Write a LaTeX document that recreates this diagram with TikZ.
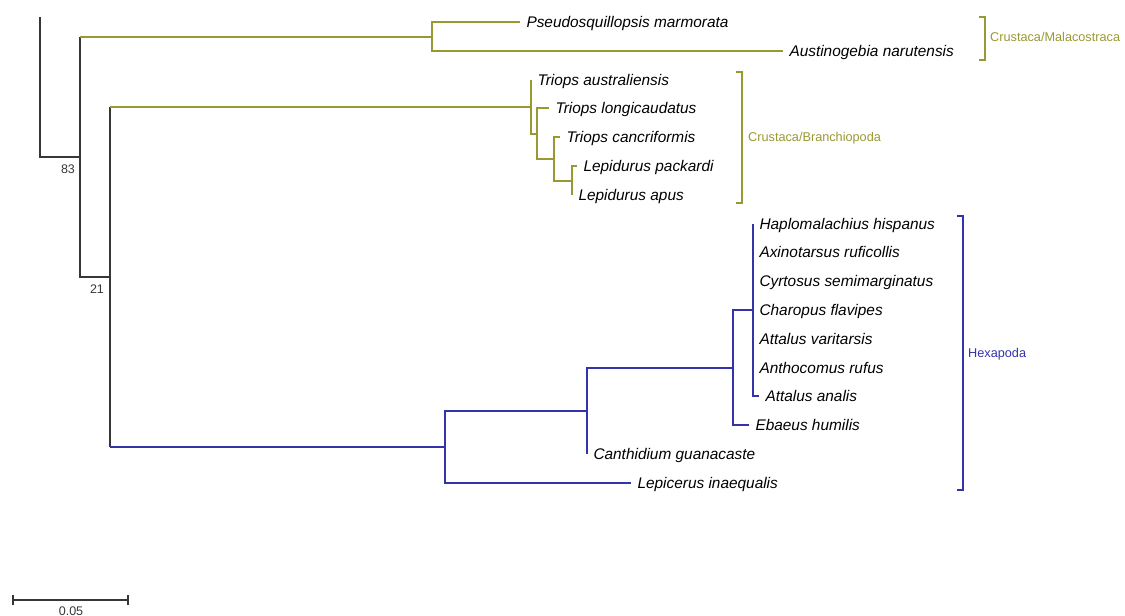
\documentclass[tikz,border=0pt]{standalone}
\usepackage{fontspec}
\setmainfont{Liberation Sans}
\definecolor{olv}{RGB}{153,153,51}
\definecolor{hexb}{RGB}{51,51,170}
\definecolor{stem}{RGB}{55,55,55}
\begin{document}
\begin{tikzpicture}[x=1pt,y=-1pt,
  br/.style={line width=1.6pt, line join=miter},
  leaf/.style={anchor=west, font=\fontsize{15.4}{18}\selectfont\itshape, inner xsep=0pt, inner ysep=0pt, outer xsep=6.5pt, outer ysep=0pt, text height=14pt, text depth=3pt},
  grp/.style={anchor=west, font=\fontsize{12.7}{15}\selectfont, inner sep=0pt, text height=11.1pt, text depth=2pt},
  num/.style={font=\fontsize{12.5}{15}\selectfont, inner sep=0pt, text=stem}]
\useasboundingbox (0,0) rectangle (1125,616);

% internal nodes
\coordinate (rt) at (40,17);
\coordinate (R) at (40,157);
\coordinate (A) at (80,157);
\coordinate (M) at (432,37);
\coordinate (B0) at (110,277);
\coordinate (Br1) at (531,107);
\coordinate (Br2) at (537,134);
\coordinate (Br3) at (554,159);
\coordinate (Br4) at (572,181);
\coordinate (Hx1) at (445,447);
\coordinate (Hx2) at (587,411);
\coordinate (Hx3) at (733,368);
\coordinate (Hx4) at (753,310);

% leaves
\node[leaf] (l1) at (520,22) {Pseudosquillopsis marmorata};
\node[leaf] (l2) at (783,51) {Austinogebia narutensis};
\node[leaf] (l3) at (531,80) {Triops australiensis};
\node[leaf] (l4) at (549,108) {Triops longicaudatus};
\node[leaf] (l5) at (560,137) {Triops cancriformis};
\node[leaf] (l6) at (577,166) {Lepidurus packardi};
\node[leaf] (l7) at (572,195) {Lepidurus apus};
\node[leaf] (l8) at (753,224) {Haplomalachius hispanus};
\node[leaf] (l9) at (753,252) {Axinotarsus ruficollis};
\node[leaf] (l10) at (753,281) {Cyrtosus semimarginatus};
\node[leaf] (l11) at (753,310) {Charopus flavipes};
\node[leaf] (l12) at (753,339) {Attalus varitarsis};
\node[leaf] (l13) at (753,368) {Anthocomus rufus};
\node[leaf] (l14) at (759,396) {Attalus analis};
\node[leaf] (l15) at (749,425) {Ebaeus humilis};
\node[leaf] (l16) at (587,454) {Canthidium guanacaste};
\node[leaf] (l17) at (631,483) {Lepicerus inaequalis};

% backbone
\draw[br,stem] (rt) -- (R) -- (A);
\draw[br,stem] (A) -- (A|-M);
\draw[br,olv] (A|-M) -- (M);
\draw[br,stem] (A) |- (B0);
\draw[br,stem] (B0) -- (B0|-Br1);
\draw[br,olv] (B0|-Br1) -- (Br1);
\draw[br,stem] (B0) -- (B0|-Hx1);
\draw[br,hexb] (B0|-Hx1) -- (Hx1);

% Malacostraca
\draw[br,olv] (M) |- (l1.west);
\draw[br,olv] (M) |- (l2.west);

% Branchiopoda
\draw[br,olv] (Br1) |- (l3.west);
\draw[br,olv] (Br1) |- (Br2);
\draw[br,olv] (Br2) |- (l4.west);
\draw[br,olv] (Br2) |- (Br3);
\draw[br,olv] (Br3) |- (l5.west);
\draw[br,olv] (Br3) |- (Br4);
\draw[br,olv] (Br4) |- (l6.west);
\draw[br,olv] (Br4) |- (l7.west);

% Hexapoda
\draw[br,hexb] (Hx1) |- (Hx2);
\draw[br,hexb] (Hx1) |- (l17.west);
\draw[br,hexb] (Hx2) |- (Hx3);
\draw[br,hexb] (Hx2) |- (l16.west);
\draw[br,hexb] (Hx3) |- (Hx4);
\draw[br,hexb] (Hx3) |- (l15.west);
\foreach \k in {8,...,14} {\draw[br,hexb] (Hx4) |- (l\k.west);}

% support values
\node[num] (b83) at (68,169) {83};
\node[num] (b21) at (97,289) {21};

% group brackets
\draw[br,olv] (979,17) -- (985,17) -- (985,60) -- (979,60);
\draw[br,olv] (736,72) -- (742,72) -- (742,203) -- (736,203);
\draw[br,hexb] (957,216) -- (963,216) -- (963,490) -- (957,490);
\node[grp, text=olv] (gM) at (990,37) {Crustaca/Malacostraca};
\node[grp, text=olv] (gB) at (748,137) {Crustaca/Branchiopoda};
\node[grp, text=hexb] (gH) at (968,353) {Hexapoda};

% scale bar
\coordinate (s1) at (13,600);
\coordinate (s2) at (128,600);
\draw[br,stem] (s1) -- (s2);
\draw[br,stem] ([yshift=-5pt]s1) -- ([yshift=5pt]s1);
\draw[br,stem] ([yshift=-5pt]s2) -- ([yshift=5pt]s2);
\node[num, anchor=base] (sl) at (71,615.5) {0.05};
\end{tikzpicture}
\end{document}
